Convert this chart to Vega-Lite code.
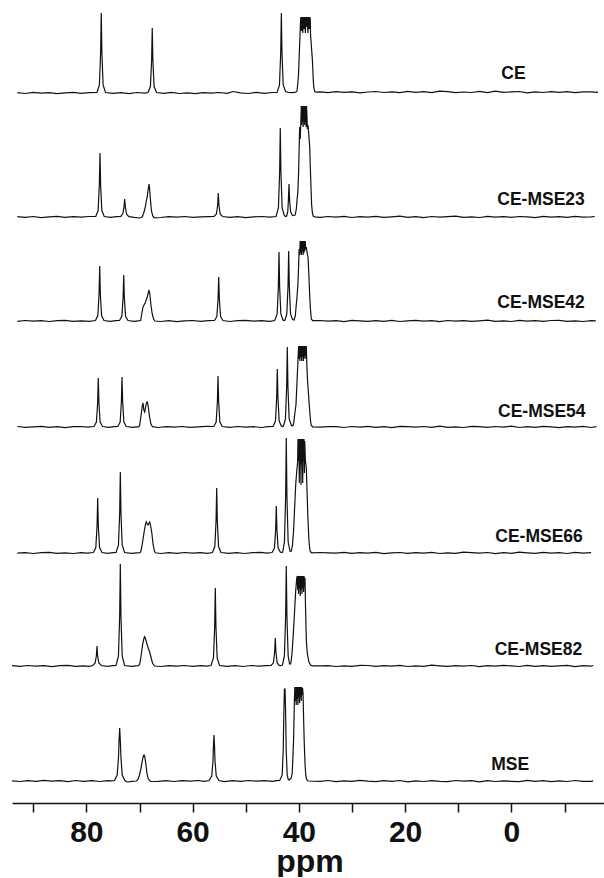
{
"$schema": "https://vega.github.io/schema/vega-lite/v6.json",
"background": "white",
"padding": {"left": 9, "top": 0, "right": 0, "bottom": 0},
"config": {"view": {"stroke": null}, "font": "Liberation Sans"},
"spacing": 0,
"bounds": "flush",
"resolve": {"scale": {"y": "independent"}},
"datasets": {
"labels": [
{"sample":"CE","label":"CE","ppm":1.9,"intensity":13.6},
{"sample":"CE-MSE23","label":"CE-MSE23","ppm":2.65,"intensity":12},
{"sample":"CE-MSE42","label":"CE-MSE42","ppm":2.65,"intensity":12.8},
{"sample":"CE-MSE54","label":"CE-MSE54","ppm":2.52,"intensity":10.4},
{"sample":"CE-MSE66","label":"CE-MSE66","ppm":3.03,"intensity":11.1},
{"sample":"CE-MSE82","label":"CE-MSE82","ppm":3.14,"intensity":11.1},
{"sample":"MSE","label":"MSE","ppm":3.78,"intensity":11.1}
],
"spec": [
{"sample":"CE","ppm":93,"intensity":0.3},{"sample":"CE","ppm":91.5,"intensity":-0.5},{"sample":"CE","ppm":90,"intensity":0.6},{"sample":"CE","ppm":88.5,"intensity":-0.2},{"sample":"CE","ppm":87,"intensity":0.4},{"sample":"CE","ppm":85.5,"intensity":-0.6},{"sample":"CE","ppm":84,"intensity":0.2},{"sample":"CE","ppm":82.5,"intensity":0.7},{"sample":"CE","ppm":81,"intensity":-0.3},{"sample":"CE","ppm":79.5,"intensity":0.4},
{"sample":"CE","ppm":78,"intensity":0.5},{"sample":"CE","ppm":77.55,"intensity":8},{"sample":"CE","ppm":77.32,"intensity":40},{"sample":"CE","ppm":77.2,"intensity":80},{"sample":"CE","ppm":77.08,"intensity":40},{"sample":"CE","ppm":76.85,"intensity":8},{"sample":"CE","ppm":76.4,"intensity":0.5},
{"sample":"CE","ppm":75,"intensity":-0.4},{"sample":"CE","ppm":73.5,"intensity":0.3},{"sample":"CE","ppm":72,"intensity":-0.6},{"sample":"CE","ppm":70.5,"intensity":0.5},{"sample":"CE","ppm":69,"intensity":-0.2},
{"sample":"CE","ppm":68.4,"intensity":0.5},{"sample":"CE","ppm":67.95,"intensity":6.5},{"sample":"CE","ppm":67.72,"intensity":32},{"sample":"CE","ppm":67.6,"intensity":65},{"sample":"CE","ppm":67.48,"intensity":32},{"sample":"CE","ppm":67.25,"intensity":6.5},{"sample":"CE","ppm":66.8,"intensity":0.5},
{"sample":"CE","ppm":65.5,"intensity":-0.3},{"sample":"CE","ppm":64,"intensity":0.6},{"sample":"CE","ppm":62.5,"intensity":-0.5},{"sample":"CE","ppm":61,"intensity":0.2},{"sample":"CE","ppm":59.5,"intensity":-0.7},{"sample":"CE","ppm":58,"intensity":0.4},{"sample":"CE","ppm":56.5,"intensity":-0.2},{"sample":"CE","ppm":55,"intensity":0.5},{"sample":"CE","ppm":53.5,"intensity":-0.4},{"sample":"CE","ppm":52.4,"intensity":1.5},{"sample":"CE","ppm":51,"intensity":0.2},{"sample":"CE","ppm":49.5,"intensity":-0.5},{"sample":"CE","ppm":48,"intensity":0.6},{"sample":"CE","ppm":46.5,"intensity":-0.3},{"sample":"CE","ppm":45,"intensity":0.5},
{"sample":"CE","ppm":44.1,"intensity":0.5},{"sample":"CE","ppm":43.65,"intensity":8},{"sample":"CE","ppm":43.42,"intensity":40},{"sample":"CE","ppm":43.3,"intensity":80},{"sample":"CE","ppm":43.18,"intensity":40},{"sample":"CE","ppm":42.95,"intensity":8},{"sample":"CE","ppm":42.5,"intensity":1.5},{"sample":"CE","ppm":42,"intensity":0.5},{"sample":"CE","ppm":41.2,"intensity":0.3},{"sample":"CE","ppm":40.6,"intensity":0.8},
{"sample":"CE","ppm":40.35,"intensity":2},{"sample":"CE","ppm":40.2,"intensity":10},{"sample":"CE","ppm":40.07,"intensity":18},{"sample":"CE","ppm":39.88,"intensity":45},{"sample":"CE","ppm":39.7,"intensity":70},{"sample":"CE","ppm":39.62,"intensity":76},{"sample":"CE","ppm":39.5,"intensity":62},{"sample":"CE","ppm":39.38,"intensity":76},{"sample":"CE","ppm":39.26,"intensity":60},{"sample":"CE","ppm":39.14,"intensity":76},{"sample":"CE","ppm":39.02,"intensity":64},{"sample":"CE","ppm":38.9,"intensity":76},{"sample":"CE","ppm":38.78,"intensity":60},{"sample":"CE","ppm":38.66,"intensity":76},{"sample":"CE","ppm":38.54,"intensity":66},{"sample":"CE","ppm":38.42,"intensity":76},{"sample":"CE","ppm":38.3,"intensity":60},{"sample":"CE","ppm":38.18,"intensity":76},{"sample":"CE","ppm":38.06,"intensity":64},{"sample":"CE","ppm":37.94,"intensity":76},{"sample":"CE","ppm":37.86,"intensity":74},{"sample":"CE","ppm":37.8,"intensity":58},{"sample":"CE","ppm":37.62,"intensity":45},{"sample":"CE","ppm":37.44,"intensity":32},{"sample":"CE","ppm":37.3,"intensity":14},{"sample":"CE","ppm":37.2,"intensity":6},{"sample":"CE","ppm":37.02,"intensity":1.5},{"sample":"CE","ppm":36.7,"intensity":0.8},
{"sample":"CE","ppm":36,"intensity":1.1},{"sample":"CE","ppm":34.5,"intensity":0.3},{"sample":"CE","ppm":33,"intensity":1.4},{"sample":"CE","ppm":31.5,"intensity":0.6},{"sample":"CE","ppm":30,"intensity":1.2},{"sample":"CE","ppm":28.5,"intensity":0.2},{"sample":"CE","ppm":27,"intensity":1.0},{"sample":"CE","ppm":25.5,"intensity":1.5},{"sample":"CE","ppm":24,"intensity":0.5},{"sample":"CE","ppm":22.5,"intensity":1.2},{"sample":"CE","ppm":21,"intensity":0.3},{"sample":"CE","ppm":19.5,"intensity":1.7},{"sample":"CE","ppm":18,"intensity":0.6},{"sample":"CE","ppm":16.5,"intensity":1.3},{"sample":"CE","ppm":15,"intensity":0.4},{"sample":"CE","ppm":13.5,"intensity":1.9},{"sample":"CE","ppm":12,"intensity":1.4},{"sample":"CE","ppm":10.5,"intensity":0.3},{"sample":"CE","ppm":9,"intensity":1.0},{"sample":"CE","ppm":7.5,"intensity":0.5},{"sample":"CE","ppm":6,"intensity":1.6},{"sample":"CE","ppm":4.5,"intensity":0.4},{"sample":"CE","ppm":3,"intensity":1.8},{"sample":"CE","ppm":1.5,"intensity":0.6},{"sample":"CE","ppm":0,"intensity":1.1},{"sample":"CE","ppm":-1.5,"intensity":1.5},{"sample":"CE","ppm":-3,"intensity":0.2},{"sample":"CE","ppm":-4.5,"intensity":1.2},{"sample":"CE","ppm":-6,"intensity":0.5},{"sample":"CE","ppm":-7.5,"intensity":1.4},{"sample":"CE","ppm":-9,"intensity":0.6},{"sample":"CE","ppm":-10.5,"intensity":1.3},{"sample":"CE","ppm":-12,"intensity":0.3},{"sample":"CE","ppm":-13.5,"intensity":1.1},{"sample":"CE","ppm":-15,"intensity":1.2},{"sample":"CE","ppm":-16.3,"intensity":0.7},

{"sample":"CE-MSE23","ppm":93,"intensity":0.4},{"sample":"CE-MSE23","ppm":91.5,"intensity":-0.3},{"sample":"CE-MSE23","ppm":90,"intensity":0.5},{"sample":"CE-MSE23","ppm":88.5,"intensity":-0.6},{"sample":"CE-MSE23","ppm":87,"intensity":0.2},{"sample":"CE-MSE23","ppm":85.5,"intensity":0.6},{"sample":"CE-MSE23","ppm":84,"intensity":-0.4},{"sample":"CE-MSE23","ppm":82.5,"intensity":0.3},{"sample":"CE-MSE23","ppm":81,"intensity":-0.2},{"sample":"CE-MSE23","ppm":79.5,"intensity":0.5},
{"sample":"CE-MSE23","ppm":78.24,"intensity":0.5},{"sample":"CE-MSE23","ppm":77.79,"intensity":6.4},{"sample":"CE-MSE23","ppm":77.56,"intensity":32},{"sample":"CE-MSE23","ppm":77.44,"intensity":64},{"sample":"CE-MSE23","ppm":77.32,"intensity":32},{"sample":"CE-MSE23","ppm":77.09,"intensity":6.4},{"sample":"CE-MSE23","ppm":76.64,"intensity":0.5},
{"sample":"CE-MSE23","ppm":75.5,"intensity":-0.3},{"sample":"CE-MSE23","ppm":74.3,"intensity":0.4},
{"sample":"CE-MSE23","ppm":73.5,"intensity":0.6},{"sample":"CE-MSE23","ppm":73.1,"intensity":4},{"sample":"CE-MSE23","ppm":72.92,"intensity":10},{"sample":"CE-MSE23","ppm":72.79,"intensity":18},{"sample":"CE-MSE23","ppm":72.66,"intensity":10},{"sample":"CE-MSE23","ppm":72.45,"intensity":3},{"sample":"CE-MSE23","ppm":72,"intensity":0.4},
{"sample":"CE-MSE23","ppm":71,"intensity":-0.4},{"sample":"CE-MSE23","ppm":70,"intensity":-1.0},
{"sample":"CE-MSE23","ppm":69.5,"intensity":0},{"sample":"CE-MSE23","ppm":69.2,"intensity":4},{"sample":"CE-MSE23","ppm":68.9,"intensity":10},{"sample":"CE-MSE23","ppm":68.72,"intensity":16},{"sample":"CE-MSE23","ppm":68.55,"intensity":20},{"sample":"CE-MSE23","ppm":68.38,"intensity":27},{"sample":"CE-MSE23","ppm":68.21,"intensity":33},{"sample":"CE-MSE23","ppm":68.1,"intensity":28},{"sample":"CE-MSE23","ppm":67.95,"intensity":18},{"sample":"CE-MSE23","ppm":67.75,"intensity":6},{"sample":"CE-MSE23","ppm":67.5,"intensity":1},{"sample":"CE-MSE23","ppm":67.2,"intensity":-0.8},
{"sample":"CE-MSE23","ppm":66,"intensity":-0.5},{"sample":"CE-MSE23","ppm":64.5,"intensity":0.3},{"sample":"CE-MSE23","ppm":63,"intensity":-0.2},{"sample":"CE-MSE23","ppm":61.5,"intensity":0.5},{"sample":"CE-MSE23","ppm":60,"intensity":-0.4},{"sample":"CE-MSE23","ppm":58.5,"intensity":0.2},{"sample":"CE-MSE23","ppm":57,"intensity":0.4},
{"sample":"CE-MSE23","ppm":55.97,"intensity":0.5},{"sample":"CE-MSE23","ppm":55.52,"intensity":3},{"sample":"CE-MSE23","ppm":55.29,"intensity":12},{"sample":"CE-MSE23","ppm":55.17,"intensity":24},{"sample":"CE-MSE23","ppm":55.05,"intensity":12},{"sample":"CE-MSE23","ppm":54.82,"intensity":3},{"sample":"CE-MSE23","ppm":54.37,"intensity":0.5},
{"sample":"CE-MSE23","ppm":53,"intensity":-0.3},{"sample":"CE-MSE23","ppm":51.5,"intensity":0.4},{"sample":"CE-MSE23","ppm":50,"intensity":-0.6},{"sample":"CE-MSE23","ppm":48.5,"intensity":0.2},{"sample":"CE-MSE23","ppm":47,"intensity":0.5},{"sample":"CE-MSE23","ppm":45.5,"intensity":-0.2},
{"sample":"CE-MSE23","ppm":44.3,"intensity":0.5},{"sample":"CE-MSE23","ppm":43.85,"intensity":9},{"sample":"CE-MSE23","ppm":43.62,"intensity":45},{"sample":"CE-MSE23","ppm":43.5,"intensity":89},{"sample":"CE-MSE23","ppm":43.38,"intensity":45},{"sample":"CE-MSE23","ppm":43.15,"intensity":9},{"sample":"CE-MSE23","ppm":42.75,"intensity":1.5},{"sample":"CE-MSE23","ppm":42.5,"intensity":0.5},
{"sample":"CE-MSE23","ppm":42.3,"intensity":1},{"sample":"CE-MSE23","ppm":42.1,"intensity":5},{"sample":"CE-MSE23","ppm":41.98,"intensity":16},{"sample":"CE-MSE23","ppm":41.86,"intensity":33},{"sample":"CE-MSE23","ppm":41.74,"intensity":16},{"sample":"CE-MSE23","ppm":41.55,"intensity":5},{"sample":"CE-MSE23","ppm":41.2,"intensity":1.5},
{"sample":"CE-MSE23","ppm":40.7,"intensity":2},{"sample":"CE-MSE23","ppm":40.48,"intensity":8},{"sample":"CE-MSE23","ppm":40.3,"intensity":20},{"sample":"CE-MSE23","ppm":40.2,"intensity":24},{"sample":"CE-MSE23","ppm":40.05,"intensity":45},{"sample":"CE-MSE23","ppm":39.9,"intensity":80},{"sample":"CE-MSE23","ppm":39.84,"intensity":90},{"sample":"CE-MSE23","ppm":39.75,"intensity":78},{"sample":"CE-MSE23","ppm":39.65,"intensity":92},{"sample":"CE-MSE23","ppm":39.54,"intensity":111},{"sample":"CE-MSE23","ppm":39.47,"intensity":92},{"sample":"CE-MSE23","ppm":39.4,"intensity":111},{"sample":"CE-MSE23","ppm":39.33,"intensity":95},{"sample":"CE-MSE23","ppm":39.26,"intensity":111},{"sample":"CE-MSE23","ppm":39.19,"intensity":90},{"sample":"CE-MSE23","ppm":39.12,"intensity":111},{"sample":"CE-MSE23","ppm":39.05,"intensity":96},{"sample":"CE-MSE23","ppm":38.98,"intensity":111},{"sample":"CE-MSE23","ppm":38.91,"intensity":92},{"sample":"CE-MSE23","ppm":38.84,"intensity":111},{"sample":"CE-MSE23","ppm":38.77,"intensity":95},{"sample":"CE-MSE23","ppm":38.7,"intensity":111},{"sample":"CE-MSE23","ppm":38.63,"intensity":90},{"sample":"CE-MSE23","ppm":38.56,"intensity":111},{"sample":"CE-MSE23","ppm":38.47,"intensity":100},{"sample":"CE-MSE23","ppm":38.4,"intensity":88},{"sample":"CE-MSE23","ppm":38.3,"intensity":92},{"sample":"CE-MSE23","ppm":38.22,"intensity":88},{"sample":"CE-MSE23","ppm":38.1,"intensity":80},{"sample":"CE-MSE23","ppm":37.96,"intensity":70},{"sample":"CE-MSE23","ppm":37.85,"intensity":50},{"sample":"CE-MSE23","ppm":37.72,"intensity":30},{"sample":"CE-MSE23","ppm":37.6,"intensity":12},{"sample":"CE-MSE23","ppm":37.45,"intensity":4},{"sample":"CE-MSE23","ppm":37.3,"intensity":1},{"sample":"CE-MSE23","ppm":37,"intensity":0.2},
{"sample":"CE-MSE23","ppm":36,"intensity":-0.4},{"sample":"CE-MSE23","ppm":34.5,"intensity":0.5},{"sample":"CE-MSE23","ppm":33,"intensity":-0.2},{"sample":"CE-MSE23","ppm":31.5,"intensity":0.7},{"sample":"CE-MSE23","ppm":30,"intensity":-0.5},{"sample":"CE-MSE23","ppm":28.5,"intensity":0.3},{"sample":"CE-MSE23","ppm":27,"intensity":-0.1},{"sample":"CE-MSE23","ppm":25.5,"intensity":0.6},{"sample":"CE-MSE23","ppm":24,"intensity":-0.4},{"sample":"CE-MSE23","ppm":22.5,"intensity":0.2},{"sample":"CE-MSE23","ppm":21,"intensity":0.8},{"sample":"CE-MSE23","ppm":19.5,"intensity":-0.3},{"sample":"CE-MSE23","ppm":18,"intensity":0.4},{"sample":"CE-MSE23","ppm":16.5,"intensity":-0.6},{"sample":"CE-MSE23","ppm":15,"intensity":0.5},{"sample":"CE-MSE23","ppm":13.5,"intensity":-0.2},{"sample":"CE-MSE23","ppm":12,"intensity":0.3},{"sample":"CE-MSE23","ppm":10.5,"intensity":0.9},{"sample":"CE-MSE23","ppm":9,"intensity":-0.4},{"sample":"CE-MSE23","ppm":7.5,"intensity":0.1},{"sample":"CE-MSE23","ppm":6,"intensity":-0.5},{"sample":"CE-MSE23","ppm":4.5,"intensity":0.6},{"sample":"CE-MSE23","ppm":3,"intensity":-0.2},{"sample":"CE-MSE23","ppm":1.5,"intensity":0.4},{"sample":"CE-MSE23","ppm":0,"intensity":-0.3},{"sample":"CE-MSE23","ppm":-1.5,"intensity":0.5},{"sample":"CE-MSE23","ppm":-3,"intensity":0.2},{"sample":"CE-MSE23","ppm":-4.5,"intensity":-0.6},{"sample":"CE-MSE23","ppm":-6,"intensity":0.7},{"sample":"CE-MSE23","ppm":-7.5,"intensity":-0.1},{"sample":"CE-MSE23","ppm":-9,"intensity":0.3},{"sample":"CE-MSE23","ppm":-10.5,"intensity":-0.4},{"sample":"CE-MSE23","ppm":-12,"intensity":0.6},{"sample":"CE-MSE23","ppm":-13.5,"intensity":-0.2},{"sample":"CE-MSE23","ppm":-15,"intensity":0.2},{"sample":"CE-MSE23","ppm":-15.7,"intensity":0.5},

{"sample":"CE-MSE42","ppm":93,"intensity":-0.3},{"sample":"CE-MSE42","ppm":91.5,"intensity":0.5},{"sample":"CE-MSE42","ppm":90,"intensity":-0.2},{"sample":"CE-MSE42","ppm":88.5,"intensity":0.4},{"sample":"CE-MSE42","ppm":87,"intensity":-0.5},{"sample":"CE-MSE42","ppm":85.5,"intensity":0.3},{"sample":"CE-MSE42","ppm":84,"intensity":0.6},{"sample":"CE-MSE42","ppm":82.5,"intensity":-0.4},{"sample":"CE-MSE42","ppm":81,"intensity":0.2},{"sample":"CE-MSE42","ppm":79.5,"intensity":-0.3},
{"sample":"CE-MSE42","ppm":78.29,"intensity":0.5},{"sample":"CE-MSE42","ppm":77.84,"intensity":5.5},{"sample":"CE-MSE42","ppm":77.61,"intensity":27},{"sample":"CE-MSE42","ppm":77.49,"intensity":55},{"sample":"CE-MSE42","ppm":77.37,"intensity":27},{"sample":"CE-MSE42","ppm":77.14,"intensity":5.5},{"sample":"CE-MSE42","ppm":76.69,"intensity":0.5},
{"sample":"CE-MSE42","ppm":75.5,"intensity":-0.4},{"sample":"CE-MSE42","ppm":74.5,"intensity":0.3},
{"sample":"CE-MSE42","ppm":73.77,"intensity":0.5},{"sample":"CE-MSE42","ppm":73.32,"intensity":4.6},{"sample":"CE-MSE42","ppm":73.09,"intensity":23},{"sample":"CE-MSE42","ppm":72.97,"intensity":46},{"sample":"CE-MSE42","ppm":72.85,"intensity":23},{"sample":"CE-MSE42","ppm":72.62,"intensity":4.6},{"sample":"CE-MSE42","ppm":72.17,"intensity":0.5},
{"sample":"CE-MSE42","ppm":71,"intensity":-0.3},{"sample":"CE-MSE42","ppm":70.2,"intensity":0.2},
{"sample":"CE-MSE42","ppm":69.78,"intensity":0.5},{"sample":"CE-MSE42","ppm":69.55,"intensity":8},{"sample":"CE-MSE42","ppm":69.34,"intensity":14},{"sample":"CE-MSE42","ppm":69.15,"intensity":16},{"sample":"CE-MSE42","ppm":68.95,"intensity":18},{"sample":"CE-MSE42","ppm":68.8,"intensity":20},{"sample":"CE-MSE42","ppm":68.55,"intensity":24},{"sample":"CE-MSE42","ppm":68.35,"intensity":28},{"sample":"CE-MSE42","ppm":68.21,"intensity":31},{"sample":"CE-MSE42","ppm":68.05,"intensity":27},{"sample":"CE-MSE42","ppm":67.85,"intensity":16},{"sample":"CE-MSE42","ppm":67.6,"intensity":7},{"sample":"CE-MSE42","ppm":67.35,"intensity":2},{"sample":"CE-MSE42","ppm":67.1,"intensity":0},
{"sample":"CE-MSE42","ppm":66,"intensity":-0.5},{"sample":"CE-MSE42","ppm":64.5,"intensity":0.4},{"sample":"CE-MSE42","ppm":63,"intensity":-0.6},{"sample":"CE-MSE42","ppm":61.5,"intensity":0.2},{"sample":"CE-MSE42","ppm":60,"intensity":0.5},{"sample":"CE-MSE42","ppm":58.5,"intensity":-0.3},{"sample":"CE-MSE42","ppm":57,"intensity":0.4},
{"sample":"CE-MSE42","ppm":55.89,"intensity":0.5},{"sample":"CE-MSE42","ppm":55.44,"intensity":4.4},{"sample":"CE-MSE42","ppm":55.21,"intensity":22},{"sample":"CE-MSE42","ppm":55.09,"intensity":44},{"sample":"CE-MSE42","ppm":54.97,"intensity":22},{"sample":"CE-MSE42","ppm":54.74,"intensity":4.4},{"sample":"CE-MSE42","ppm":54.29,"intensity":0.5},
{"sample":"CE-MSE42","ppm":53,"intensity":-0.5},{"sample":"CE-MSE42","ppm":51.5,"intensity":0.3},{"sample":"CE-MSE42","ppm":50,"intensity":0.6},{"sample":"CE-MSE42","ppm":48.5,"intensity":-0.2},{"sample":"CE-MSE42","ppm":47,"intensity":0.4},{"sample":"CE-MSE42","ppm":45.5,"intensity":-0.4},
{"sample":"CE-MSE42","ppm":44.54,"intensity":0.5},{"sample":"CE-MSE42","ppm":44.09,"intensity":7},{"sample":"CE-MSE42","ppm":43.86,"intensity":34},{"sample":"CE-MSE42","ppm":43.74,"intensity":69},{"sample":"CE-MSE42","ppm":43.62,"intensity":34},{"sample":"CE-MSE42","ppm":43.39,"intensity":7},{"sample":"CE-MSE42","ppm":43,"intensity":1},{"sample":"CE-MSE42","ppm":42.8,"intensity":0.5},
{"sample":"CE-MSE42","ppm":42.6,"intensity":1},{"sample":"CE-MSE42","ppm":42.27,"intensity":7},{"sample":"CE-MSE42","ppm":42.04,"intensity":35},{"sample":"CE-MSE42","ppm":41.92,"intensity":70},{"sample":"CE-MSE42","ppm":41.8,"intensity":35},{"sample":"CE-MSE42","ppm":41.57,"intensity":7},{"sample":"CE-MSE42","ppm":41.2,"intensity":1.5},
{"sample":"CE-MSE42","ppm":40.9,"intensity":1},{"sample":"CE-MSE42","ppm":40.67,"intensity":5},{"sample":"CE-MSE42","ppm":40.5,"intensity":16},{"sample":"CE-MSE42","ppm":40.4,"intensity":21},{"sample":"CE-MSE42","ppm":40.2,"intensity":35},{"sample":"CE-MSE42","ppm":40.05,"intensity":55},{"sample":"CE-MSE42","ppm":39.95,"intensity":72},{"sample":"CE-MSE42","ppm":39.85,"intensity":66},{"sample":"CE-MSE42","ppm":39.76,"intensity":80},{"sample":"CE-MSE42","ppm":39.68,"intensity":68},{"sample":"CE-MSE42","ppm":39.6,"intensity":80},{"sample":"CE-MSE42","ppm":39.52,"intensity":66},{"sample":"CE-MSE42","ppm":39.44,"intensity":80},{"sample":"CE-MSE42","ppm":39.36,"intensity":70},{"sample":"CE-MSE42","ppm":39.28,"intensity":80},{"sample":"CE-MSE42","ppm":39.2,"intensity":66},{"sample":"CE-MSE42","ppm":39.12,"intensity":80},{"sample":"CE-MSE42","ppm":39.04,"intensity":68},{"sample":"CE-MSE42","ppm":38.96,"intensity":80},{"sample":"CE-MSE42","ppm":38.88,"intensity":70},{"sample":"CE-MSE42","ppm":38.8,"intensity":80},{"sample":"CE-MSE42","ppm":38.72,"intensity":72},{"sample":"CE-MSE42","ppm":38.6,"intensity":74},{"sample":"CE-MSE42","ppm":38.45,"intensity":68},{"sample":"CE-MSE42","ppm":38.28,"intensity":64},{"sample":"CE-MSE42","ppm":38.15,"intensity":50},{"sample":"CE-MSE42","ppm":38,"intensity":30},{"sample":"CE-MSE42","ppm":37.85,"intensity":14},{"sample":"CE-MSE42","ppm":37.66,"intensity":2},{"sample":"CE-MSE42","ppm":37.4,"intensity":0.3},
{"sample":"CE-MSE42","ppm":36,"intensity":0.5},{"sample":"CE-MSE42","ppm":34.5,"intensity":-0.2},{"sample":"CE-MSE42","ppm":33,"intensity":0.3},{"sample":"CE-MSE42","ppm":31.5,"intensity":-0.6},{"sample":"CE-MSE42","ppm":30,"intensity":0.6},{"sample":"CE-MSE42","ppm":28.5,"intensity":0.1},{"sample":"CE-MSE42","ppm":27,"intensity":-0.4},{"sample":"CE-MSE42","ppm":25.5,"intensity":0.4},{"sample":"CE-MSE42","ppm":24,"intensity":-0.3},{"sample":"CE-MSE42","ppm":22.5,"intensity":0.7},{"sample":"CE-MSE42","ppm":21,"intensity":-0.5},{"sample":"CE-MSE42","ppm":19.5,"intensity":0.2},{"sample":"CE-MSE42","ppm":18,"intensity":0.6},{"sample":"CE-MSE42","ppm":16.5,"intensity":-0.2},{"sample":"CE-MSE42","ppm":15,"intensity":0.3},{"sample":"CE-MSE42","ppm":13.5,"intensity":-0.7},{"sample":"CE-MSE42","ppm":12,"intensity":0.5},{"sample":"CE-MSE42","ppm":10.5,"intensity":-0.1},{"sample":"CE-MSE42","ppm":9,"intensity":0.4},{"sample":"CE-MSE42","ppm":7.5,"intensity":-0.4},{"sample":"CE-MSE42","ppm":6,"intensity":0.2},{"sample":"CE-MSE42","ppm":4.5,"intensity":0.8},{"sample":"CE-MSE42","ppm":3,"intensity":-0.3},{"sample":"CE-MSE42","ppm":1.5,"intensity":0.1},{"sample":"CE-MSE42","ppm":0,"intensity":-0.5},{"sample":"CE-MSE42","ppm":-1.5,"intensity":0.6},{"sample":"CE-MSE42","ppm":-3,"intensity":-0.2},{"sample":"CE-MSE42","ppm":-4.5,"intensity":0.3},{"sample":"CE-MSE42","ppm":-6,"intensity":-0.4},{"sample":"CE-MSE42","ppm":-7.5,"intensity":0.5},{"sample":"CE-MSE42","ppm":-9,"intensity":0.7},{"sample":"CE-MSE42","ppm":-10.5,"intensity":-0.3},{"sample":"CE-MSE42","ppm":-12,"intensity":0.2},{"sample":"CE-MSE42","ppm":-13.5,"intensity":-0.5},{"sample":"CE-MSE42","ppm":-15,"intensity":0.4},{"sample":"CE-MSE42","ppm":-15.9,"intensity":0.1},

{"sample":"CE-MSE54","ppm":93,"intensity":0.5},{"sample":"CE-MSE54","ppm":91.5,"intensity":-0.4},{"sample":"CE-MSE54","ppm":90,"intensity":0.2},{"sample":"CE-MSE54","ppm":88.5,"intensity":0.6},{"sample":"CE-MSE54","ppm":87,"intensity":-0.3},{"sample":"CE-MSE54","ppm":85.5,"intensity":0.4},{"sample":"CE-MSE54","ppm":84,"intensity":-0.6},{"sample":"CE-MSE54","ppm":82.5,"intensity":0.3},{"sample":"CE-MSE54","ppm":81,"intensity":0.5},{"sample":"CE-MSE54","ppm":79.8,"intensity":-0.2},
{"sample":"CE-MSE54","ppm":78.56,"intensity":0.5},{"sample":"CE-MSE54","ppm":78.11,"intensity":5},{"sample":"CE-MSE54","ppm":77.88,"intensity":24},{"sample":"CE-MSE54","ppm":77.76,"intensity":49},{"sample":"CE-MSE54","ppm":77.64,"intensity":24},{"sample":"CE-MSE54","ppm":77.41,"intensity":5},{"sample":"CE-MSE54","ppm":76.96,"intensity":0.5},
{"sample":"CE-MSE54","ppm":75.8,"intensity":-0.3},{"sample":"CE-MSE54","ppm":74.8,"intensity":0.4},
{"sample":"CE-MSE54","ppm":74.09,"intensity":0.5},{"sample":"CE-MSE54","ppm":73.64,"intensity":5},{"sample":"CE-MSE54","ppm":73.41,"intensity":25},{"sample":"CE-MSE54","ppm":73.29,"intensity":50},{"sample":"CE-MSE54","ppm":73.17,"intensity":25},{"sample":"CE-MSE54","ppm":72.94,"intensity":5},{"sample":"CE-MSE54","ppm":72.49,"intensity":0.5},
{"sample":"CE-MSE54","ppm":71.3,"intensity":-0.4},
{"sample":"CE-MSE54","ppm":70.1,"intensity":0.3},{"sample":"CE-MSE54","ppm":69.96,"intensity":2},{"sample":"CE-MSE54","ppm":69.7,"intensity":12},{"sample":"CE-MSE54","ppm":69.48,"intensity":21},{"sample":"CE-MSE54","ppm":69.34,"intensity":24},{"sample":"CE-MSE54","ppm":69.18,"intensity":17},{"sample":"CE-MSE54","ppm":69.02,"intensity":15},{"sample":"CE-MSE54","ppm":68.85,"intensity":20},{"sample":"CE-MSE54","ppm":68.68,"intensity":24.5},{"sample":"CE-MSE54","ppm":68.53,"intensity":25},{"sample":"CE-MSE54","ppm":68.35,"intensity":20},{"sample":"CE-MSE54","ppm":68.1,"intensity":10},{"sample":"CE-MSE54","ppm":67.85,"intensity":3},{"sample":"CE-MSE54","ppm":67.55,"intensity":0.3},
{"sample":"CE-MSE54","ppm":66.5,"intensity":-0.5},{"sample":"CE-MSE54","ppm":65,"intensity":0.3},{"sample":"CE-MSE54","ppm":63.5,"intensity":-0.2},{"sample":"CE-MSE54","ppm":62,"intensity":0.5},{"sample":"CE-MSE54","ppm":60.5,"intensity":-0.4},{"sample":"CE-MSE54","ppm":59,"intensity":0.2},{"sample":"CE-MSE54","ppm":57.5,"intensity":0.6},
{"sample":"CE-MSE54","ppm":56.02,"intensity":0.5},{"sample":"CE-MSE54","ppm":55.57,"intensity":5},{"sample":"CE-MSE54","ppm":55.34,"intensity":25},{"sample":"CE-MSE54","ppm":55.22,"intensity":51},{"sample":"CE-MSE54","ppm":55.1,"intensity":25},{"sample":"CE-MSE54","ppm":54.87,"intensity":5},{"sample":"CE-MSE54","ppm":54.42,"intensity":0.5},
{"sample":"CE-MSE54","ppm":53,"intensity":-0.4},{"sample":"CE-MSE54","ppm":51.5,"intensity":0.5},{"sample":"CE-MSE54","ppm":50,"intensity":-0.2},{"sample":"CE-MSE54","ppm":48.5,"intensity":0.3},{"sample":"CE-MSE54","ppm":47,"intensity":-0.5},{"sample":"CE-MSE54","ppm":45.8,"intensity":0.4},
{"sample":"CE-MSE54","ppm":44.86,"intensity":0.5},{"sample":"CE-MSE54","ppm":44.41,"intensity":6},{"sample":"CE-MSE54","ppm":44.18,"intensity":29},{"sample":"CE-MSE54","ppm":44.06,"intensity":58},{"sample":"CE-MSE54","ppm":43.94,"intensity":29},{"sample":"CE-MSE54","ppm":43.71,"intensity":6},{"sample":"CE-MSE54","ppm":43.3,"intensity":1},{"sample":"CE-MSE54","ppm":43.1,"intensity":0.5},
{"sample":"CE-MSE54","ppm":42.9,"intensity":1},{"sample":"CE-MSE54","ppm":42.53,"intensity":8},{"sample":"CE-MSE54","ppm":42.3,"intensity":40},{"sample":"CE-MSE54","ppm":42.18,"intensity":80},{"sample":"CE-MSE54","ppm":42.06,"intensity":40},{"sample":"CE-MSE54","ppm":41.83,"intensity":8},{"sample":"CE-MSE54","ppm":41.4,"intensity":1.5},
{"sample":"CE-MSE54","ppm":41.15,"intensity":1},{"sample":"CE-MSE54","ppm":40.97,"intensity":4},{"sample":"CE-MSE54","ppm":40.73,"intensity":15},{"sample":"CE-MSE54","ppm":40.55,"intensity":22},{"sample":"CE-MSE54","ppm":40.35,"intensity":45},{"sample":"CE-MSE54","ppm":40.15,"intensity":70},{"sample":"CE-MSE54","ppm":40.03,"intensity":81},{"sample":"CE-MSE54","ppm":39.95,"intensity":68},{"sample":"CE-MSE54","ppm":39.87,"intensity":81},{"sample":"CE-MSE54","ppm":39.79,"intensity":66},{"sample":"CE-MSE54","ppm":39.71,"intensity":81},{"sample":"CE-MSE54","ppm":39.63,"intensity":70},{"sample":"CE-MSE54","ppm":39.55,"intensity":81},{"sample":"CE-MSE54","ppm":39.47,"intensity":66},{"sample":"CE-MSE54","ppm":39.39,"intensity":81},{"sample":"CE-MSE54","ppm":39.31,"intensity":70},{"sample":"CE-MSE54","ppm":39.23,"intensity":81},{"sample":"CE-MSE54","ppm":39.15,"intensity":66},{"sample":"CE-MSE54","ppm":39.07,"intensity":81},{"sample":"CE-MSE54","ppm":38.99,"intensity":70},{"sample":"CE-MSE54","ppm":38.91,"intensity":81},{"sample":"CE-MSE54","ppm":38.83,"intensity":68},{"sample":"CE-MSE54","ppm":38.75,"intensity":81},{"sample":"CE-MSE54","ppm":38.67,"intensity":72},{"sample":"CE-MSE54","ppm":38.6,"intensity":81},{"sample":"CE-MSE54","ppm":38.5,"intensity":62},{"sample":"CE-MSE54","ppm":38.35,"intensity":45},{"sample":"CE-MSE54","ppm":38.15,"intensity":30},{"sample":"CE-MSE54","ppm":37.95,"intensity":15},{"sample":"CE-MSE54","ppm":37.78,"intensity":5},{"sample":"CE-MSE54","ppm":37.66,"intensity":1.5},{"sample":"CE-MSE54","ppm":37.4,"intensity":0.2},
{"sample":"CE-MSE54","ppm":36,"intensity":-0.1},{"sample":"CE-MSE54","ppm":34.5,"intensity":0.4},{"sample":"CE-MSE54","ppm":33,"intensity":0.3},{"sample":"CE-MSE54","ppm":31.5,"intensity":-0.5},{"sample":"CE-MSE54","ppm":30,"intensity":0.5},{"sample":"CE-MSE54","ppm":28.5,"intensity":-0.2},{"sample":"CE-MSE54","ppm":27,"intensity":0.6},{"sample":"CE-MSE54","ppm":25.5,"intensity":-0.3},{"sample":"CE-MSE54","ppm":24,"intensity":0.4},{"sample":"CE-MSE54","ppm":22.5,"intensity":-0.6},{"sample":"CE-MSE54","ppm":21,"intensity":0.7},{"sample":"CE-MSE54","ppm":19.5,"intensity":0.3},{"sample":"CE-MSE54","ppm":18,"intensity":-0.2},{"sample":"CE-MSE54","ppm":16.5,"intensity":0.5},{"sample":"CE-MSE54","ppm":15,"intensity":-0.4},{"sample":"CE-MSE54","ppm":13.5,"intensity":0.8},{"sample":"CE-MSE54","ppm":12,"intensity":-0.3},{"sample":"CE-MSE54","ppm":10.5,"intensity":0.2},{"sample":"CE-MSE54","ppm":9,"intensity":-0.5},{"sample":"CE-MSE54","ppm":7.5,"intensity":0.6},{"sample":"CE-MSE54","ppm":6,"intensity":0.3},{"sample":"CE-MSE54","ppm":4.5,"intensity":-0.4},{"sample":"CE-MSE54","ppm":3,"intensity":0.5},{"sample":"CE-MSE54","ppm":1.5,"intensity":-0.2},{"sample":"CE-MSE54","ppm":0,"intensity":0.9},{"sample":"CE-MSE54","ppm":-1.5,"intensity":-0.5},{"sample":"CE-MSE54","ppm":-3,"intensity":0.4},{"sample":"CE-MSE54","ppm":-4.5,"intensity":-0.3},{"sample":"CE-MSE54","ppm":-6,"intensity":0.7},{"sample":"CE-MSE54","ppm":-7.5,"intensity":0.2},{"sample":"CE-MSE54","ppm":-9,"intensity":-0.6},{"sample":"CE-MSE54","ppm":-10.5,"intensity":0.4},{"sample":"CE-MSE54","ppm":-12,"intensity":-0.2},{"sample":"CE-MSE54","ppm":-13.5,"intensity":0.6},{"sample":"CE-MSE54","ppm":-15,"intensity":-0.5},{"sample":"CE-MSE54","ppm":-16,"intensity":0.3},

{"sample":"CE-MSE66","ppm":93,"intensity":-0.2},{"sample":"CE-MSE66","ppm":91.5,"intensity":0.4},{"sample":"CE-MSE66","ppm":90,"intensity":-0.5},{"sample":"CE-MSE66","ppm":88.5,"intensity":0.3},{"sample":"CE-MSE66","ppm":87,"intensity":0.6},{"sample":"CE-MSE66","ppm":85.5,"intensity":-0.3},{"sample":"CE-MSE66","ppm":84,"intensity":0.2},{"sample":"CE-MSE66","ppm":82.5,"intensity":-0.5},{"sample":"CE-MSE66","ppm":81,"intensity":0.4},{"sample":"CE-MSE66","ppm":79.8,"intensity":-0.2},
{"sample":"CE-MSE66","ppm":78.67,"intensity":0.5},{"sample":"CE-MSE66","ppm":78.22,"intensity":5.5},{"sample":"CE-MSE66","ppm":77.99,"intensity":27},{"sample":"CE-MSE66","ppm":77.87,"intensity":55},{"sample":"CE-MSE66","ppm":77.75,"intensity":27},{"sample":"CE-MSE66","ppm":77.52,"intensity":5.5},{"sample":"CE-MSE66","ppm":77.07,"intensity":0.5},
{"sample":"CE-MSE66","ppm":76,"intensity":-0.3},{"sample":"CE-MSE66","ppm":75,"intensity":0.4},
{"sample":"CE-MSE66","ppm":74.41,"intensity":0.5},{"sample":"CE-MSE66","ppm":73.96,"intensity":8},{"sample":"CE-MSE66","ppm":73.73,"intensity":40},{"sample":"CE-MSE66","ppm":73.61,"intensity":81},{"sample":"CE-MSE66","ppm":73.49,"intensity":40},{"sample":"CE-MSE66","ppm":73.26,"intensity":8},{"sample":"CE-MSE66","ppm":72.81,"intensity":0.5},
{"sample":"CE-MSE66","ppm":71.5,"intensity":-0.4},{"sample":"CE-MSE66","ppm":70.5,"intensity":0.2},
{"sample":"CE-MSE66","ppm":69.9,"intensity":0.3},{"sample":"CE-MSE66","ppm":69.72,"intensity":2},{"sample":"CE-MSE66","ppm":69.45,"intensity":10},{"sample":"CE-MSE66","ppm":69.1,"intensity":22},{"sample":"CE-MSE66","ppm":68.9,"intensity":28},{"sample":"CE-MSE66","ppm":68.72,"intensity":31},{"sample":"CE-MSE66","ppm":68.55,"intensity":29},{"sample":"CE-MSE66","ppm":68.4,"intensity":28},{"sample":"CE-MSE66","ppm":68.25,"intensity":29.5},{"sample":"CE-MSE66","ppm":68.08,"intensity":31},{"sample":"CE-MSE66","ppm":67.9,"intensity":27},{"sample":"CE-MSE66","ppm":67.68,"intensity":20},{"sample":"CE-MSE66","ppm":67.45,"intensity":9},{"sample":"CE-MSE66","ppm":67.2,"intensity":2},{"sample":"CE-MSE66","ppm":67,"intensity":0.2},
{"sample":"CE-MSE66","ppm":66,"intensity":-0.5},{"sample":"CE-MSE66","ppm":64.5,"intensity":0.3},{"sample":"CE-MSE66","ppm":63,"intensity":-0.3},{"sample":"CE-MSE66","ppm":61.5,"intensity":0.5},{"sample":"CE-MSE66","ppm":60,"intensity":-0.2},{"sample":"CE-MSE66","ppm":58.5,"intensity":0.4},{"sample":"CE-MSE66","ppm":57.2,"intensity":-0.3},
{"sample":"CE-MSE66","ppm":56.27,"intensity":0.5},{"sample":"CE-MSE66","ppm":55.82,"intensity":6.5},{"sample":"CE-MSE66","ppm":55.59,"intensity":32},{"sample":"CE-MSE66","ppm":55.47,"intensity":65},{"sample":"CE-MSE66","ppm":55.35,"intensity":32},{"sample":"CE-MSE66","ppm":55.12,"intensity":6.5},{"sample":"CE-MSE66","ppm":54.67,"intensity":0.5},
{"sample":"CE-MSE66","ppm":53.2,"intensity":-0.4},{"sample":"CE-MSE66","ppm":51.7,"intensity":0.3},{"sample":"CE-MSE66","ppm":50.2,"intensity":-0.5},{"sample":"CE-MSE66","ppm":48.7,"intensity":0.4},{"sample":"CE-MSE66","ppm":47.2,"intensity":0.6},{"sample":"CE-MSE66","ppm":46,"intensity":-0.2},
{"sample":"CE-MSE66","ppm":45.05,"intensity":0.5},{"sample":"CE-MSE66","ppm":44.6,"intensity":5},{"sample":"CE-MSE66","ppm":44.37,"intensity":23},{"sample":"CE-MSE66","ppm":44.25,"intensity":47},{"sample":"CE-MSE66","ppm":44.13,"intensity":23},{"sample":"CE-MSE66","ppm":43.9,"intensity":5},{"sample":"CE-MSE66","ppm":43.5,"intensity":1},{"sample":"CE-MSE66","ppm":43.25,"intensity":0.5},
{"sample":"CE-MSE66","ppm":43.05,"intensity":1},{"sample":"CE-MSE66","ppm":42.72,"intensity":11},{"sample":"CE-MSE66","ppm":42.49,"intensity":57},{"sample":"CE-MSE66","ppm":42.37,"intensity":115},{"sample":"CE-MSE66","ppm":42.25,"intensity":57},{"sample":"CE-MSE66","ppm":42.02,"intensity":11},{"sample":"CE-MSE66","ppm":41.65,"intensity":1.5},
{"sample":"CE-MSE66","ppm":41.42,"intensity":2},{"sample":"CE-MSE66","ppm":41.2,"intensity":8},{"sample":"CE-MSE66","ppm":41,"intensity":22},{"sample":"CE-MSE66","ppm":40.8,"intensity":45},{"sample":"CE-MSE66","ppm":40.6,"intensity":68},{"sample":"CE-MSE66","ppm":40.4,"intensity":82},{"sample":"CE-MSE66","ppm":40.25,"intensity":90},{"sample":"CE-MSE66","ppm":40.16,"intensity":114},{"sample":"CE-MSE66","ppm":40.08,"intensity":92},{"sample":"CE-MSE66","ppm":40,"intensity":114},{"sample":"CE-MSE66","ppm":39.92,"intensity":70},{"sample":"CE-MSE66","ppm":39.84,"intensity":114},{"sample":"CE-MSE66","ppm":39.76,"intensity":88},{"sample":"CE-MSE66","ppm":39.68,"intensity":114},{"sample":"CE-MSE66","ppm":39.6,"intensity":68},{"sample":"CE-MSE66","ppm":39.52,"intensity":114},{"sample":"CE-MSE66","ppm":39.44,"intensity":90},{"sample":"CE-MSE66","ppm":39.36,"intensity":114},{"sample":"CE-MSE66","ppm":39.28,"intensity":70},{"sample":"CE-MSE66","ppm":39.2,"intensity":114},{"sample":"CE-MSE66","ppm":39.12,"intensity":92},{"sample":"CE-MSE66","ppm":39.04,"intensity":114},{"sample":"CE-MSE66","ppm":38.96,"intensity":80},{"sample":"CE-MSE66","ppm":38.9,"intensity":112},{"sample":"CE-MSE66","ppm":38.78,"intensity":93},{"sample":"CE-MSE66","ppm":38.6,"intensity":85},{"sample":"CE-MSE66","ppm":38.45,"intensity":60},{"sample":"CE-MSE66","ppm":38.3,"intensity":35},{"sample":"CE-MSE66","ppm":38.1,"intensity":12},{"sample":"CE-MSE66","ppm":37.95,"intensity":4},{"sample":"CE-MSE66","ppm":37.85,"intensity":1.5},{"sample":"CE-MSE66","ppm":37.6,"intensity":0.2},
{"sample":"CE-MSE66","ppm":36,"intensity":0.5},{"sample":"CE-MSE66","ppm":34.5,"intensity":0.2},{"sample":"CE-MSE66","ppm":33,"intensity":-0.2},{"sample":"CE-MSE66","ppm":31.5,"intensity":0.6},{"sample":"CE-MSE66","ppm":30,"intensity":-0.4},{"sample":"CE-MSE66","ppm":28.5,"intensity":0.3},{"sample":"CE-MSE66","ppm":27,"intensity":-0.1},{"sample":"CE-MSE66","ppm":25.5,"intensity":0.7},{"sample":"CE-MSE66","ppm":24,"intensity":-0.6},{"sample":"CE-MSE66","ppm":22.5,"intensity":0.2},{"sample":"CE-MSE66","ppm":21,"intensity":0.5},{"sample":"CE-MSE66","ppm":19.5,"intensity":-0.3},{"sample":"CE-MSE66","ppm":18,"intensity":0.4},{"sample":"CE-MSE66","ppm":16.5,"intensity":-0.2},{"sample":"CE-MSE66","ppm":15,"intensity":0.6},{"sample":"CE-MSE66","ppm":13.5,"intensity":-0.5},{"sample":"CE-MSE66","ppm":12,"intensity":0.1},{"sample":"CE-MSE66","ppm":10.5,"intensity":-0.4},{"sample":"CE-MSE66","ppm":9,"intensity":0.9},{"sample":"CE-MSE66","ppm":7.5,"intensity":0.3},{"sample":"CE-MSE66","ppm":6,"intensity":-0.2},{"sample":"CE-MSE66","ppm":4.5,"intensity":0.5},{"sample":"CE-MSE66","ppm":3,"intensity":-0.6},{"sample":"CE-MSE66","ppm":1.5,"intensity":0.4},{"sample":"CE-MSE66","ppm":0,"intensity":-0.3},{"sample":"CE-MSE66","ppm":-1.5,"intensity":0.8},{"sample":"CE-MSE66","ppm":-3,"intensity":0.2},{"sample":"CE-MSE66","ppm":-4.5,"intensity":-0.4},{"sample":"CE-MSE66","ppm":-6,"intensity":0.6},{"sample":"CE-MSE66","ppm":-7.5,"intensity":-0.1},{"sample":"CE-MSE66","ppm":-9,"intensity":0.3},{"sample":"CE-MSE66","ppm":-10.5,"intensity":-0.5},{"sample":"CE-MSE66","ppm":-12,"intensity":0.7},{"sample":"CE-MSE66","ppm":-13.5,"intensity":-0.2},{"sample":"CE-MSE66","ppm":-15,"intensity":0.4},

{"sample":"CE-MSE82","ppm":94,"intensity":0.3},{"sample":"CE-MSE82","ppm":92.5,"intensity":-0.4},{"sample":"CE-MSE82","ppm":91,"intensity":0.5},{"sample":"CE-MSE82","ppm":89.5,"intensity":-0.2},{"sample":"CE-MSE82","ppm":88,"intensity":0.4},{"sample":"CE-MSE82","ppm":86.5,"intensity":-0.6},{"sample":"CE-MSE82","ppm":85,"intensity":0.3},{"sample":"CE-MSE82","ppm":83.5,"intensity":0.6},{"sample":"CE-MSE82","ppm":82,"intensity":-0.3},{"sample":"CE-MSE82","ppm":80.5,"intensity":0.2},{"sample":"CE-MSE82","ppm":79.5,"intensity":-0.4},
{"sample":"CE-MSE82","ppm":78.8,"intensity":0.5},{"sample":"CE-MSE82","ppm":78.35,"intensity":3},{"sample":"CE-MSE82","ppm":78.12,"intensity":10},{"sample":"CE-MSE82","ppm":78,"intensity":20},{"sample":"CE-MSE82","ppm":77.88,"intensity":10},{"sample":"CE-MSE82","ppm":77.65,"intensity":3},{"sample":"CE-MSE82","ppm":77.2,"intensity":0.5},
{"sample":"CE-MSE82","ppm":76,"intensity":-0.3},{"sample":"CE-MSE82","ppm":75,"intensity":0.4},
{"sample":"CE-MSE82","ppm":74.41,"intensity":0.5},{"sample":"CE-MSE82","ppm":73.96,"intensity":10},{"sample":"CE-MSE82","ppm":73.73,"intensity":50},{"sample":"CE-MSE82","ppm":73.61,"intensity":102},{"sample":"CE-MSE82","ppm":73.49,"intensity":50},{"sample":"CE-MSE82","ppm":73.26,"intensity":10},{"sample":"CE-MSE82","ppm":72.81,"intensity":0.5},
{"sample":"CE-MSE82","ppm":71.5,"intensity":-0.4},{"sample":"CE-MSE82","ppm":70.7,"intensity":0.2},
{"sample":"CE-MSE82","ppm":70.2,"intensity":0.3},{"sample":"CE-MSE82","ppm":69.96,"intensity":2},{"sample":"CE-MSE82","ppm":69.7,"intensity":10},{"sample":"CE-MSE82","ppm":69.4,"intensity":22},{"sample":"CE-MSE82","ppm":69.15,"intensity":28},{"sample":"CE-MSE82","ppm":69.02,"intensity":29.3},{"sample":"CE-MSE82","ppm":68.85,"intensity":27},{"sample":"CE-MSE82","ppm":68.6,"intensity":22},{"sample":"CE-MSE82","ppm":68.3,"intensity":17},{"sample":"CE-MSE82","ppm":68.08,"intensity":14},{"sample":"CE-MSE82","ppm":67.85,"intensity":9},{"sample":"CE-MSE82","ppm":67.55,"intensity":3},{"sample":"CE-MSE82","ppm":67.3,"intensity":0.8},{"sample":"CE-MSE82","ppm":67.1,"intensity":0},
{"sample":"CE-MSE82","ppm":66,"intensity":-0.5},{"sample":"CE-MSE82","ppm":64.5,"intensity":0.4},{"sample":"CE-MSE82","ppm":63,"intensity":-0.2},{"sample":"CE-MSE82","ppm":61.5,"intensity":0.5},{"sample":"CE-MSE82","ppm":60,"intensity":-0.3},{"sample":"CE-MSE82","ppm":58.5,"intensity":0.3},{"sample":"CE-MSE82","ppm":57.4,"intensity":-0.2},
{"sample":"CE-MSE82","ppm":56.53,"intensity":0.5},{"sample":"CE-MSE82","ppm":56.08,"intensity":8},{"sample":"CE-MSE82","ppm":55.85,"intensity":39},{"sample":"CE-MSE82","ppm":55.73,"intensity":78},{"sample":"CE-MSE82","ppm":55.61,"intensity":39},{"sample":"CE-MSE82","ppm":55.38,"intensity":8},{"sample":"CE-MSE82","ppm":54.93,"intensity":0.5},
{"sample":"CE-MSE82","ppm":53.5,"intensity":-0.4},{"sample":"CE-MSE82","ppm":52,"intensity":0.3},{"sample":"CE-MSE82","ppm":50.5,"intensity":-0.5},{"sample":"CE-MSE82","ppm":49,"intensity":0.5},{"sample":"CE-MSE82","ppm":47.5,"intensity":-0.2},{"sample":"CE-MSE82","ppm":46.2,"intensity":0.4},
{"sample":"CE-MSE82","ppm":45.24,"intensity":0.5},{"sample":"CE-MSE82","ppm":44.79,"intensity":3},{"sample":"CE-MSE82","ppm":44.56,"intensity":14},{"sample":"CE-MSE82","ppm":44.44,"intensity":28},{"sample":"CE-MSE82","ppm":44.32,"intensity":14},{"sample":"CE-MSE82","ppm":44.09,"intensity":3},{"sample":"CE-MSE82","ppm":43.7,"intensity":0.5},{"sample":"CE-MSE82","ppm":43.4,"intensity":0.3},
{"sample":"CE-MSE82","ppm":43.1,"intensity":1},{"sample":"CE-MSE82","ppm":42.72,"intensity":10},{"sample":"CE-MSE82","ppm":42.49,"intensity":50},{"sample":"CE-MSE82","ppm":42.37,"intensity":100},{"sample":"CE-MSE82","ppm":42.25,"intensity":50},{"sample":"CE-MSE82","ppm":42.02,"intensity":10},{"sample":"CE-MSE82","ppm":41.75,"intensity":2},
{"sample":"CE-MSE82","ppm":41.54,"intensity":2},{"sample":"CE-MSE82","ppm":41.3,"intensity":12},{"sample":"CE-MSE82","ppm":41.1,"intensity":28},{"sample":"CE-MSE82","ppm":40.9,"intensity":46},{"sample":"CE-MSE82","ppm":40.6,"intensity":75},{"sample":"CE-MSE82","ppm":40.4,"intensity":88},{"sample":"CE-MSE82","ppm":40.3,"intensity":90},{"sample":"CE-MSE82","ppm":40.22,"intensity":76},{"sample":"CE-MSE82","ppm":40.14,"intensity":90},{"sample":"CE-MSE82","ppm":40.06,"intensity":72},{"sample":"CE-MSE82","ppm":39.98,"intensity":90},{"sample":"CE-MSE82","ppm":39.9,"intensity":78},{"sample":"CE-MSE82","ppm":39.82,"intensity":90},{"sample":"CE-MSE82","ppm":39.74,"intensity":70},{"sample":"CE-MSE82","ppm":39.66,"intensity":90},{"sample":"CE-MSE82","ppm":39.58,"intensity":76},{"sample":"CE-MSE82","ppm":39.5,"intensity":90},{"sample":"CE-MSE82","ppm":39.42,"intensity":72},{"sample":"CE-MSE82","ppm":39.34,"intensity":90},{"sample":"CE-MSE82","ppm":39.26,"intensity":78},{"sample":"CE-MSE82","ppm":39.18,"intensity":90},{"sample":"CE-MSE82","ppm":39.1,"intensity":74},{"sample":"CE-MSE82","ppm":39.02,"intensity":90},{"sample":"CE-MSE82","ppm":38.94,"intensity":80},{"sample":"CE-MSE82","ppm":38.85,"intensity":88},{"sample":"CE-MSE82","ppm":38.75,"intensity":60},{"sample":"CE-MSE82","ppm":38.6,"intensity":26},{"sample":"CE-MSE82","ppm":38.4,"intensity":12},{"sample":"CE-MSE82","ppm":38.1,"intensity":4},{"sample":"CE-MSE82","ppm":37.8,"intensity":1},{"sample":"CE-MSE82","ppm":37.5,"intensity":0.2},
{"sample":"CE-MSE82","ppm":36,"intensity":0.1},{"sample":"CE-MSE82","ppm":34.5,"intensity":0.4},{"sample":"CE-MSE82","ppm":33,"intensity":-0.5},{"sample":"CE-MSE82","ppm":31.5,"intensity":0.2},{"sample":"CE-MSE82","ppm":30,"intensity":-0.3},{"sample":"CE-MSE82","ppm":28.5,"intensity":0.7},{"sample":"CE-MSE82","ppm":27,"intensity":0.5},{"sample":"CE-MSE82","ppm":25.5,"intensity":-0.4},{"sample":"CE-MSE82","ppm":24,"intensity":0.3},{"sample":"CE-MSE82","ppm":22.5,"intensity":-0.2},{"sample":"CE-MSE82","ppm":21,"intensity":0.6},{"sample":"CE-MSE82","ppm":19.5,"intensity":-0.5},{"sample":"CE-MSE82","ppm":18,"intensity":0.1},{"sample":"CE-MSE82","ppm":16.5,"intensity":-0.3},{"sample":"CE-MSE82","ppm":15,"intensity":0.8},{"sample":"CE-MSE82","ppm":13.5,"intensity":0.2},{"sample":"CE-MSE82","ppm":12,"intensity":-0.4},{"sample":"CE-MSE82","ppm":10.5,"intensity":0.4},{"sample":"CE-MSE82","ppm":9,"intensity":-0.1},{"sample":"CE-MSE82","ppm":7.5,"intensity":0.5},{"sample":"CE-MSE82","ppm":6,"intensity":-0.7},{"sample":"CE-MSE82","ppm":4.5,"intensity":0.3},{"sample":"CE-MSE82","ppm":3,"intensity":-0.2},{"sample":"CE-MSE82","ppm":1.5,"intensity":0.6},{"sample":"CE-MSE82","ppm":0,"intensity":0.2},{"sample":"CE-MSE82","ppm":-1.5,"intensity":-0.5},{"sample":"CE-MSE82","ppm":-3,"intensity":0.7},{"sample":"CE-MSE82","ppm":-4.5,"intensity":-0.3},{"sample":"CE-MSE82","ppm":-6,"intensity":0.4},{"sample":"CE-MSE82","ppm":-7.5,"intensity":-0.4},{"sample":"CE-MSE82","ppm":-9,"intensity":0.1},{"sample":"CE-MSE82","ppm":-10.5,"intensity":0.6},{"sample":"CE-MSE82","ppm":-12,"intensity":-0.6},{"sample":"CE-MSE82","ppm":-13.5,"intensity":0.3},{"sample":"CE-MSE82","ppm":-15,"intensity":-0.2},{"sample":"CE-MSE82","ppm":-15.4,"intensity":0.5},

{"sample":"MSE","ppm":94,"intensity":0.2},{"sample":"MSE","ppm":92.5,"intensity":-0.5},{"sample":"MSE","ppm":91,"intensity":0.4},{"sample":"MSE","ppm":89.5,"intensity":-0.3},{"sample":"MSE","ppm":88,"intensity":0.6},{"sample":"MSE","ppm":86.5,"intensity":-0.2},{"sample":"MSE","ppm":85,"intensity":0.3},{"sample":"MSE","ppm":83.5,"intensity":-0.6},{"sample":"MSE","ppm":82,"intensity":0.5},{"sample":"MSE","ppm":80.5,"intensity":-0.3},{"sample":"MSE","ppm":79,"intensity":0.4},{"sample":"MSE","ppm":77.5,"intensity":-0.5},{"sample":"MSE","ppm":76,"intensity":0.3},{"sample":"MSE","ppm":75.2,"intensity":0.1},
{"sample":"MSE","ppm":74.7,"intensity":0.5},{"sample":"MSE","ppm":74.2,"intensity":6},{"sample":"MSE","ppm":73.95,"intensity":24},{"sample":"MSE","ppm":73.85,"intensity":40},{"sample":"MSE","ppm":73.73,"intensity":53},{"sample":"MSE","ppm":73.61,"intensity":40},{"sample":"MSE","ppm":73.5,"intensity":24},{"sample":"MSE","ppm":73.25,"intensity":6},{"sample":"MSE","ppm":72.75,"intensity":0.5},{"sample":"MSE","ppm":72.3,"intensity":-1},
{"sample":"MSE","ppm":71.3,"intensity":-0.3},
{"sample":"MSE","ppm":70.6,"intensity":0},{"sample":"MSE","ppm":70.28,"intensity":1.5},{"sample":"MSE","ppm":70,"intensity":6},{"sample":"MSE","ppm":69.7,"intensity":13},{"sample":"MSE","ppm":69.45,"intensity":21},{"sample":"MSE","ppm":69.25,"intensity":25.5},{"sample":"MSE","ppm":69.15,"intensity":26},{"sample":"MSE","ppm":69,"intensity":24},{"sample":"MSE","ppm":68.8,"intensity":17},{"sample":"MSE","ppm":68.6,"intensity":8},{"sample":"MSE","ppm":68.4,"intensity":3},{"sample":"MSE","ppm":68.1,"intensity":0.5},{"sample":"MSE","ppm":67.84,"intensity":-0.5},
{"sample":"MSE","ppm":66.5,"intensity":-0.3},{"sample":"MSE","ppm":65,"intensity":0.4},{"sample":"MSE","ppm":63.5,"intensity":-0.5},{"sample":"MSE","ppm":62,"intensity":0.3},{"sample":"MSE","ppm":60.5,"intensity":-0.2},{"sample":"MSE","ppm":59,"intensity":0.5},{"sample":"MSE","ppm":57.8,"intensity":-0.3},
{"sample":"MSE","ppm":56.9,"intensity":0.5},{"sample":"MSE","ppm":56.4,"intensity":5},{"sample":"MSE","ppm":56.17,"intensity":20},{"sample":"MSE","ppm":56.08,"intensity":35},{"sample":"MSE","ppm":55.98,"intensity":46},{"sample":"MSE","ppm":55.88,"intensity":35},{"sample":"MSE","ppm":55.79,"intensity":20},{"sample":"MSE","ppm":55.55,"intensity":5},{"sample":"MSE","ppm":55.05,"intensity":0.5},
{"sample":"MSE","ppm":54,"intensity":-0.6},{"sample":"MSE","ppm":52.5,"intensity":0.3},{"sample":"MSE","ppm":51,"intensity":-0.4},{"sample":"MSE","ppm":49.5,"intensity":0.5},{"sample":"MSE","ppm":48,"intensity":-0.2},{"sample":"MSE","ppm":46.5,"intensity":0.4},{"sample":"MSE","ppm":45,"intensity":-0.3},{"sample":"MSE","ppm":44.2,"intensity":0.3},
{"sample":"MSE","ppm":43.6,"intensity":0.5},{"sample":"MSE","ppm":43.15,"intensity":6},{"sample":"MSE","ppm":42.95,"intensity":30},{"sample":"MSE","ppm":42.82,"intensity":70},{"sample":"MSE","ppm":42.72,"intensity":92},{"sample":"MSE","ppm":42.6,"intensity":92},{"sample":"MSE","ppm":42.5,"intensity":70},{"sample":"MSE","ppm":42.38,"intensity":30},{"sample":"MSE","ppm":42.2,"intensity":6},{"sample":"MSE","ppm":42,"intensity":1.5},{"sample":"MSE","ppm":41.8,"intensity":1},{"sample":"MSE","ppm":41.6,"intensity":2},
{"sample":"MSE","ppm":41.45,"intensity":3},{"sample":"MSE","ppm":41.25,"intensity":8},{"sample":"MSE","ppm":41,"intensity":40},{"sample":"MSE","ppm":40.85,"intensity":80},{"sample":"MSE","ppm":40.75,"intensity":94},{"sample":"MSE","ppm":40.67,"intensity":80},{"sample":"MSE","ppm":40.59,"intensity":94},{"sample":"MSE","ppm":40.51,"intensity":76},{"sample":"MSE","ppm":40.43,"intensity":94},{"sample":"MSE","ppm":40.35,"intensity":82},{"sample":"MSE","ppm":40.27,"intensity":94},{"sample":"MSE","ppm":40.19,"intensity":76},{"sample":"MSE","ppm":40.11,"intensity":94},{"sample":"MSE","ppm":40.03,"intensity":84},{"sample":"MSE","ppm":39.95,"intensity":94},{"sample":"MSE","ppm":39.87,"intensity":78},{"sample":"MSE","ppm":39.79,"intensity":94},{"sample":"MSE","ppm":39.71,"intensity":84},{"sample":"MSE","ppm":39.63,"intensity":94},{"sample":"MSE","ppm":39.55,"intensity":80},{"sample":"MSE","ppm":39.47,"intensity":94},{"sample":"MSE","ppm":39.39,"intensity":86},{"sample":"MSE","ppm":39.31,"intensity":93},{"sample":"MSE","ppm":39.22,"intensity":88},{"sample":"MSE","ppm":39.12,"intensity":65},{"sample":"MSE","ppm":39,"intensity":40},{"sample":"MSE","ppm":38.85,"intensity":18},{"sample":"MSE","ppm":38.7,"intensity":6},{"sample":"MSE","ppm":38.55,"intensity":1.5},{"sample":"MSE","ppm":38.3,"intensity":0},
{"sample":"MSE","ppm":36,"intensity":-0.3},{"sample":"MSE","ppm":34.5,"intensity":0.5},{"sample":"MSE","ppm":33,"intensity":-0.6},{"sample":"MSE","ppm":31.5,"intensity":0.2},{"sample":"MSE","ppm":30,"intensity":-0.4},{"sample":"MSE","ppm":28.5,"intensity":0.6},{"sample":"MSE","ppm":27,"intensity":-0.2},{"sample":"MSE","ppm":25.5,"intensity":-0.7},{"sample":"MSE","ppm":24,"intensity":0.3},{"sample":"MSE","ppm":22.5,"intensity":-0.4},{"sample":"MSE","ppm":21,"intensity":0.5},{"sample":"MSE","ppm":19.5,"intensity":-0.9},{"sample":"MSE","ppm":18,"intensity":0.2},{"sample":"MSE","ppm":16.5,"intensity":-0.5},{"sample":"MSE","ppm":15,"intensity":0.4},{"sample":"MSE","ppm":13.5,"intensity":-0.3},{"sample":"MSE","ppm":12,"intensity":-0.6},{"sample":"MSE","ppm":10.5,"intensity":0.5},{"sample":"MSE","ppm":9,"intensity":-0.2},{"sample":"MSE","ppm":7.5,"intensity":0.3},{"sample":"MSE","ppm":6,"intensity":-0.8},{"sample":"MSE","ppm":4.5,"intensity":0.4},{"sample":"MSE","ppm":3,"intensity":-0.5},{"sample":"MSE","ppm":1.5,"intensity":0.2},{"sample":"MSE","ppm":0,"intensity":-0.3},{"sample":"MSE","ppm":-1.5,"intensity":-0.7},{"sample":"MSE","ppm":-3,"intensity":0.6},{"sample":"MSE","ppm":-4.5,"intensity":-0.4},{"sample":"MSE","ppm":-6,"intensity":0.3},{"sample":"MSE","ppm":-7.5,"intensity":-0.6},{"sample":"MSE","ppm":-9,"intensity":0.2},{"sample":"MSE","ppm":-10.5,"intensity":-0.5},{"sample":"MSE","ppm":-12,"intensity":0.5},{"sample":"MSE","ppm":-13.5,"intensity":-0.3},{"sample":"MSE","ppm":-15,"intensity":-0.4},{"sample":"MSE","ppm":-15.4,"intensity":0.1}
]
},
"vconcat": [
{"width":595,"height":93,
 "encoding":{"x":{"field":"ppm","type":"quantitative","scale":{"domain":[-18,94],"reverse":true,"nice":false,"zero":false},"axis":null},
  "y":{"field":"intensity","type":"quantitative","scale":{"domain":[0,93],"nice":false,"zero":false},"axis":null}},
 "layer":[
  {"data":{"name":"spec"},"transform":[{"filter":"datum.sample === 'CE'"}],"mark":{"type":"line","color":"#111","strokeWidth":1.2},"encoding":{}},
  {"data":{"name":"labels"},"transform":[{"filter":"datum.sample === 'CE'"}],"mark":{"type":"text","align":"left","baseline":"alphabetic","fontSize":17.5,"fontWeight":"bold","font":"Liberation Sans","color":"#111"},"encoding":{"text":{"field":"label"}}}
 ]},
{"width":595,"height":124,
 "encoding":{"x":{"field":"ppm","type":"quantitative","scale":{"domain":[-18,94],"reverse":true,"nice":false,"zero":false},"axis":null},
  "y":{"field":"intensity","type":"quantitative","scale":{"domain":[0,124],"nice":false,"zero":false},"axis":null}},
 "layer":[
  {"data":{"name":"spec"},"transform":[{"filter":"datum.sample === 'CE-MSE23'"}],"mark":{"type":"line","color":"#111","strokeWidth":1.2},"encoding":{}},
  {"data":{"name":"labels"},"transform":[{"filter":"datum.sample === 'CE-MSE23'"}],"mark":{"type":"text","align":"left","baseline":"alphabetic","fontSize":17.5,"fontWeight":"bold","font":"Liberation Sans","color":"#111"},"encoding":{"text":{"field":"label"}}}
 ]},
{"width":595,"height":104,
 "encoding":{"x":{"field":"ppm","type":"quantitative","scale":{"domain":[-18,94],"reverse":true,"nice":false,"zero":false},"axis":null},
  "y":{"field":"intensity","type":"quantitative","scale":{"domain":[0,104],"nice":false,"zero":false},"axis":null}},
 "layer":[
  {"data":{"name":"spec"},"transform":[{"filter":"datum.sample === 'CE-MSE42'"}],"mark":{"type":"line","color":"#111","strokeWidth":1.2},"encoding":{}},
  {"data":{"name":"labels"},"transform":[{"filter":"datum.sample === 'CE-MSE42'"}],"mark":{"type":"text","align":"left","baseline":"alphabetic","fontSize":17.5,"fontWeight":"bold","font":"Liberation Sans","color":"#111"},"encoding":{"text":{"field":"label"}}}
 ]},
{"width":595,"height":106,
 "encoding":{"x":{"field":"ppm","type":"quantitative","scale":{"domain":[-18,94],"reverse":true,"nice":false,"zero":false},"axis":null},
  "y":{"field":"intensity","type":"quantitative","scale":{"domain":[0,106],"nice":false,"zero":false},"axis":null}},
 "layer":[
  {"data":{"name":"spec"},"transform":[{"filter":"datum.sample === 'CE-MSE54'"}],"mark":{"type":"line","color":"#111","strokeWidth":1.2},"encoding":{}},
  {"data":{"name":"labels"},"transform":[{"filter":"datum.sample === 'CE-MSE54'"}],"mark":{"type":"text","align":"left","baseline":"alphabetic","fontSize":17.5,"fontWeight":"bold","font":"Liberation Sans","color":"#111"},"encoding":{"text":{"field":"label"}}}
 ]},
{"width":595,"height":126,
 "encoding":{"x":{"field":"ppm","type":"quantitative","scale":{"domain":[-18,94],"reverse":true,"nice":false,"zero":false},"axis":null},
  "y":{"field":"intensity","type":"quantitative","scale":{"domain":[0,126],"nice":false,"zero":false},"axis":null}},
 "layer":[
  {"data":{"name":"spec"},"transform":[{"filter":"datum.sample === 'CE-MSE66'"}],"mark":{"type":"line","color":"#111","strokeWidth":1.2},"encoding":{}},
  {"data":{"name":"labels"},"transform":[{"filter":"datum.sample === 'CE-MSE66'"}],"mark":{"type":"text","align":"left","baseline":"alphabetic","fontSize":17.5,"fontWeight":"bold","font":"Liberation Sans","color":"#111"},"encoding":{"text":{"field":"label"}}}
 ]},
{"width":595,"height":113,
 "encoding":{"x":{"field":"ppm","type":"quantitative","scale":{"domain":[-18,94],"reverse":true,"nice":false,"zero":false},"axis":null},
  "y":{"field":"intensity","type":"quantitative","scale":{"domain":[0,113],"nice":false,"zero":false},"axis":null}},
 "layer":[
  {"data":{"name":"spec"},"transform":[{"filter":"datum.sample === 'CE-MSE82'"}],"mark":{"type":"line","color":"#111","strokeWidth":1.2},"encoding":{}},
  {"data":{"name":"labels"},"transform":[{"filter":"datum.sample === 'CE-MSE82'"}],"mark":{"type":"text","align":"left","baseline":"alphabetic","fontSize":17.5,"fontWeight":"bold","font":"Liberation Sans","color":"#111"},"encoding":{"text":{"field":"label"}}}
 ]},
{"width":595,"height":137,
 "encoding":{"x":{"field":"ppm","type":"quantitative","scale":{"domain":[-18,94],"reverse":true,"nice":false,"zero":false},
   "axis":{"title":"ppm","values":[90,80,70,60,50,40,30,20,10,0,-10],"labelExpr":"datum.value % 20 == 0 ? datum.label : ''","grid":false,"domain":true,"domainColor":"#111","domainWidth":1.5,"ticks":true,"tickColor":"#111","tickWidth":1.5,"tickSize":9,"labelFont":"Liberation Sans","labelFontSize":30,"labelFontWeight":"bold","labelColor":"#111","labelPadding":5,"labelFlush":false,"labelOverlap":false,"titleFont":"Liberation Sans","titleFontSize":32,"titleFontWeight":"bold","titleColor":"#111","titleBaseline":"alphabetic","titleY":68}},
  "y":{"field":"intensity","type":"quantitative","scale":{"domain":[-22,115],"nice":false,"zero":false},"axis":null}},
 "layer":[
  {"data":{"name":"spec"},"transform":[{"filter":"datum.sample === 'MSE'"}],"mark":{"type":"line","color":"#111","strokeWidth":1.2},"encoding":{}},
  {"data":{"name":"labels"},"transform":[{"filter":"datum.sample === 'MSE'"}],"mark":{"type":"text","align":"left","baseline":"alphabetic","fontSize":17.5,"fontWeight":"bold","font":"Liberation Sans","color":"#111"},"encoding":{"text":{"field":"label"}}}
 ]}
]
}
